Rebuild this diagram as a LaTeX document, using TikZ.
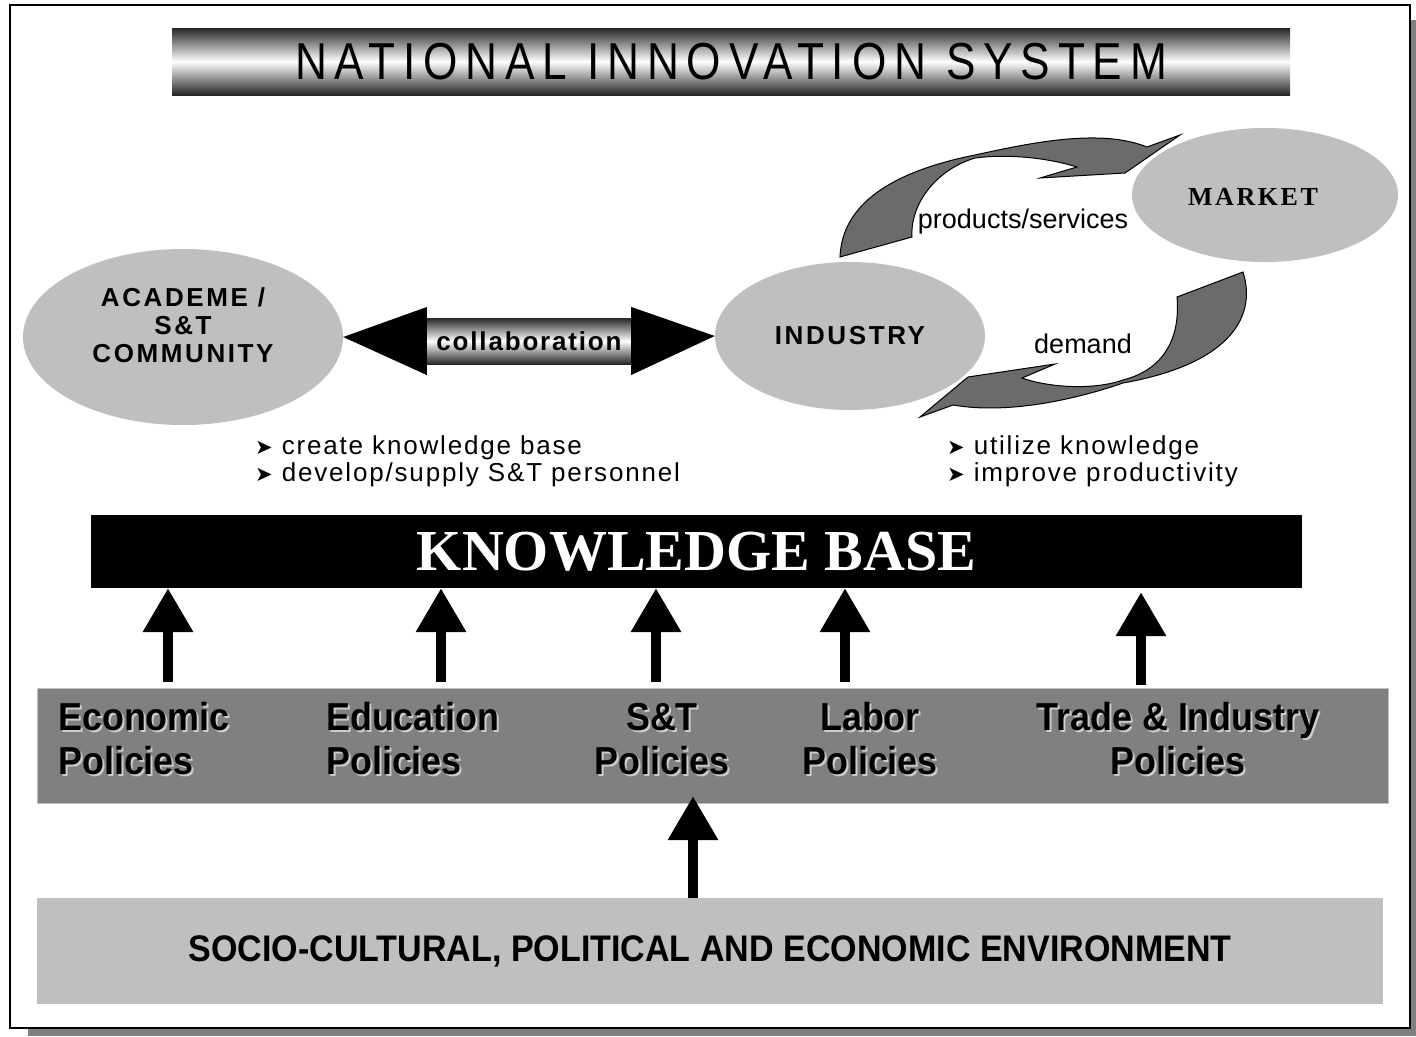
\documentclass[tikz,border=0pt]{standalone}
\usepackage{fontspec}
\setmainfont{Liberation Serif}
\setsansfont{Liberation Sans}
\newfontfamily\titlefont{Liberation Sans}[FakeStretch=0.85,LetterSpace=15]
\newfontfamily\widesans{Liberation Sans}[LetterSpace=10]
\newfontfamily\widebull{Liberation Sans}[LetterSpace=7]
\newfontfamily\wideserif{Liberation Serif}[LetterSpace=10]
\newfontfamily\narrowsans{Liberation Sans}[FakeStretch=0.92]
\newfontfamily\symfont{DejaVu Sans}
\usetikzlibrary{shapes.geometric,arrows.meta}

\definecolor{ellgray}{gray}{0.75}
\definecolor{polgray}{gray}{0.5}
\definecolor{arrgray}{gray}{0.42}

\newcommand\bulletmark{{\symfont\fontsize{21pt}{21pt}\selectfont ➤}}
\newcommand\shtext[1]{\leavevmode\rlap{\hspace{2pt}\raisebox{-2pt}{\color{black!20}#1}}#1}

\begin{document}
\begin{tikzpicture}[
  x=1pt, y=-1pt,
  ellip/.style={ellipse, fill=ellgray, inner sep=0pt},
  metal/.style={top color=black!85, bottom color=black!85, middle color=white, inner sep=0pt},
  bigsans/.style={font=\widesans\bfseries\fontsize{26pt}{28pt}\selectfont, align=center},
  flowlbl/.style={font=\sffamily\fontsize{27pt}{29pt}\selectfont},
  bullets/.style={font=\widebull\fontsize{26pt}{27pt}\selectfont, align=left, inner sep=0pt},
  poltext/.style={font=\narrowsans\bfseries\fontsize{39pt}{44pt}\selectfont, inner sep=0pt},
  curvearrow/.style={fill=arrgray, draw=black, line width=1pt},
  uparrow/.style={line width=10pt, -{Triangle[width=48pt,length=44pt]}}
  ]
  \useasboundingbox (0,0) rectangle (1416,1036);
  % page frame with shadow
  \fill[polgray] (28,20) rectangle (1416,1036);
  \draw[line width=2pt, fill=white] (10,5) rectangle (1410,1028);

  % title
  \node[metal, minimum width=1118pt, minimum height=67pt,
        font=\titlefont\fontsize{52pt}{54pt}\selectfont] (title) at (731,61.5) {NATIONAL INNOVATION SYSTEM};

  % actors
  \node[ellip, minimum width=320pt, minimum height=176pt] (academe) at (183,337) {};
  \node[bigsans] (academelbl) at ([yshift=12pt]academe.center) {ACADEME /\\S\&T\\COMMUNITY};
  \node[ellip, minimum width=270pt, minimum height=148pt, bigsans] (industry) at (850,336) {INDUSTRY};
  \node[ellip, minimum width=266pt, minimum height=134pt] (market) at (1265,195) {};
  \node[font=\wideserif\bfseries\fontsize{26pt}{28pt}\selectfont] (marketlbl) at ([xshift=-12pt,yshift=-2pt]market.center) {MARKET};

  % collaboration arrow
  \node[metal, minimum width=204pt, minimum height=46pt,
        font=\widebull\bfseries\fontsize{26pt}{28pt}\selectfont] (collab) at (529,341) {collaboration};
  \fill (academe.east) -- ([yshift=34pt]collab.west) -- ([yshift=-34pt]collab.west) -- cycle;
  \fill (industry.west) -- ([yshift=34pt]collab.east) -- ([yshift=-34pt]collab.east) -- cycle;

  % products/services
  \draw[curvearrow] (840,257) .. controls (842,205) and (890,172) .. (975,155)
    .. controls (1030,143) and (1100,128) .. (1147,147)
    -- (1180,135) -- (1125,173) -- (1040,178) -- (1077,167)
    .. controls (1045,157) and (1005,154) .. (975,158)
    .. controls (935,170) and (910,205) .. (912,237) -- cycle;
  \node[flowlbl] (prodlbl) at (1023,222) {products/services};

  % demand
  \draw[curvearrow] (1243,272) .. controls (1258,320) and (1225,365) .. (1123,383)
    .. controls (1080,398) and (1010,415) .. (953,405)
    -- (920,417) -- (968,377) -- (1055,364) -- (1022,378)
    .. controls (1050,388) and (1095,390) .. (1123,380)
    .. controls (1170,368) and (1180,330) .. (1177,297) -- cycle;
  \node[flowlbl] (demandlbl) at (1083,344) {demand};

  % roles
  \node[bullets, anchor=west] (acadlist) at (255,461)
    {\bulletmark\ create knowledge base\\\bulletmark\ develop/supply S\&T personnel};
  \node[bullets, anchor=west] (indlist) at (947,461)
    {\bulletmark\ utilize knowledge\\\bulletmark\ improve productivity};

  % knowledge base
  \node[fill=black, minimum width=1211pt, minimum height=73pt, text=white,
        font=\rmfamily\bfseries\fontsize{58pt}{60pt}\selectfont] (kb) at (696.5,551.5) {KNOWLEDGE BASE};

  % policies
  \node[fill=polgray, draw=black!25, minimum width=1351pt, minimum height=115pt] (polbar) at (712.5,745.5) {};
  \node[poltext, anchor=west, align=left] (econ) at (58,740) {\shtext{Economic}\\\shtext{Policies}};
  \node[poltext, anchor=west, align=left] (educ) at (326,740) {\shtext{Education}\\\shtext{Policies}};
  \node[poltext, align=center] (stpol) at (662,740) {\shtext{S\&T}\\\shtext{Policies}};
  \node[poltext, align=center] (labor) at (870,740) {\shtext{Labor}\\\shtext{Policies}};
  \node[poltext, align=center] (trade) at (1178,740) {\shtext{Trade \& Industry}\\\shtext{Policies}};

  \coordinate (a1) at (168,682);
  \coordinate (a2) at (441,682);
  \coordinate (a3) at (656,682);
  \coordinate (a4) at (845,682);
  \coordinate (a5) at (1141,685);
  \foreach \a in {a1,a2,a3,a4}
    \draw[uparrow] (\a) -- (\a |- kb.south);
  \draw[uparrow, shorten >=4pt] (a5) -- (a5 |- kb.south);

  % environment
  \node[fill=ellgray, minimum width=1346pt, minimum height=106pt,
        font=\narrowsans\bfseries\fontsize{37pt}{39pt}\selectfont] (socio) at (710,951)
    {SOCIO-CULTURAL, POLITICAL AND ECONOMIC ENVIRONMENT};
  \coordinate (envtop) at (693,898);
  \draw[uparrow, shorten >=-7pt] (envtop) -- (envtop |- polbar.south);
\end{tikzpicture}
\end{document}
